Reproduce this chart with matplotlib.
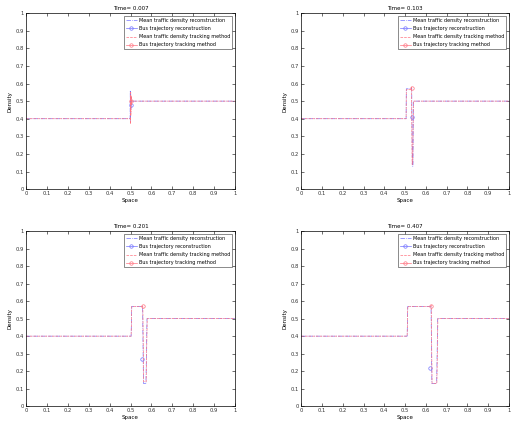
import numpy as np
import matplotlib
matplotlib.use("Agg")
import matplotlib.pyplot as plt

# Snapshot times
times = ["0.007", "0.103", "0.201", "0.407"]

# Mean traffic density reconstruction (space, density) per snapshot
rec_x = [
    [0, 0.498, 0.499, 0.500, 0.501, 0.502, 0.503, 0.504, 1.0],
    [0, 0.505, 0.506, 0.530, 0.532, 0.535, 0.538, 0.540, 1.0],
    [0, 0.503, 0.506, 0.555, 0.558, 0.562, 0.574, 0.579, 1.0],
    [0, 0.510, 0.513, 0.622, 0.625, 0.629, 0.652, 0.657, 1.0],
]
rec_y = [
    [0.40, 0.40, 0.56, 0.39, 0.54, 0.45, 0.52, 0.50, 0.50],
    [0.40, 0.40, 0.57, 0.57, 0.575, 0.13, 0.13, 0.50, 0.50],
    [0.40, 0.40, 0.57, 0.57, 0.57, 0.13, 0.13, 0.50, 0.50],
    [0.40, 0.40, 0.57, 0.57, 0.57, 0.13, 0.13, 0.50, 0.50],
]

# Mean traffic density, tracking method
trk_x = [
    [0, 0.499, 0.500, 0.501, 0.502, 0.503, 0.504, 0.505, 1.0],
    [0, 0.505, 0.506, 0.530, 0.531, 0.534, 0.537, 0.540, 1.0],
    [0, 0.503, 0.506, 0.556, 0.559, 0.563, 0.575, 0.580, 1.0],
    [0, 0.510, 0.513, 0.623, 0.626, 0.630, 0.653, 0.658, 1.0],
]
trk_y = [
    [0.40, 0.40, 0.37, 0.55, 0.42, 0.53, 0.48, 0.50, 0.50],
    [0.40, 0.40, 0.565, 0.565, 0.58, 0.14, 0.14, 0.50, 0.50],
    [0.40, 0.40, 0.57, 0.57, 0.575, 0.14, 0.14, 0.50, 0.50],
    [0.40, 0.40, 0.57, 0.57, 0.575, 0.13, 0.13, 0.50, 0.50],
]

# Bus positions (space, density)
bus_rec_x = [0.501, 0.535, 0.555, 0.620]
bus_rec_y = [0.48, 0.41, 0.27, 0.22]
bus_trk_x = [0.502, 0.531, 0.560, 0.625]
bus_trk_y = [0.50, 0.575, 0.57, 0.57]

labels = ["Mean traffic density reconstruction", "Bus trajectory reconstruction",
          "Mean traffic density tracking method", "Bus trajectory tracking method"]

blue = (0.45, 0.45, 1.0)
red = (1.0, 0.45, 0.5)

fig = plt.figure(figsize=(5.22, 4.24), dpi=100)
positions = [
    [0.050, 0.554, 0.400, 0.415],
    [0.577, 0.554, 0.398, 0.415],
    [0.050, 0.042, 0.400, 0.413],
    [0.577, 0.042, 0.398, 0.413],
]

for i in range(4):
    ax = fig.add_axes(positions[i])
    ax.plot(rec_x[i], rec_y[i], "-.", color=blue, lw=0.5, label=labels[0])
    ax.plot(bus_rec_x[i], bus_rec_y[i], "-o", color=blue, lw=0.5, ms=2.5,
            mfc="none", mew=0.5, label=labels[1])
    ax.plot(trk_x[i], trk_y[i], "--", color=red, lw=0.5, label=labels[2])
    ax.plot(bus_trk_x[i], bus_trk_y[i], "-o", color=red, lw=0.5, ms=2.5,
            mfc="none", mew=0.5, label=labels[3])
    ax.set_xlim(0, 1)
    ax.set_ylim(0, 1)
    ax.set_xticks(np.arange(0, 1.01, 0.1))
    ax.set_yticks(np.arange(0, 1.01, 0.1))
    ax.set_xticklabels(["0", "0.1", "0.2", "0.3", "0.4", "0.5", "0.6", "0.7", "0.8", "0.9", "1"])
    ax.set_yticklabels(["0", "0.1", "0.2", "0.3", "0.4", "0.5", "0.6", "0.7", "0.8", "0.9", "1"])
    ax.tick_params(direction="in", length=2, width=0.4, labelsize=3.8, pad=1.5,
                   top=True, right=True, labelcolor="#333333")
    for s in ax.spines.values():
        s.set_linewidth(0.5)
    ax.set_title("Time= " + times[i], fontsize=4, pad=2)
    ax.set_xlabel("Space", fontsize=4, labelpad=1)
    ax.set_ylabel("Density", fontsize=4, labelpad=2)
    leg = ax.legend(loc="upper right", fontsize=3.5, numpoints=1, handlelength=2.2,
                    handletextpad=0.4, borderpad=0.4, labelspacing=0.65,
                    fancybox=False, borderaxespad=0.6)
    leg.get_frame().set_edgecolor("black")
    leg.get_frame().set_linewidth(0.4)

plt.savefig("out.png", dpi=100)
